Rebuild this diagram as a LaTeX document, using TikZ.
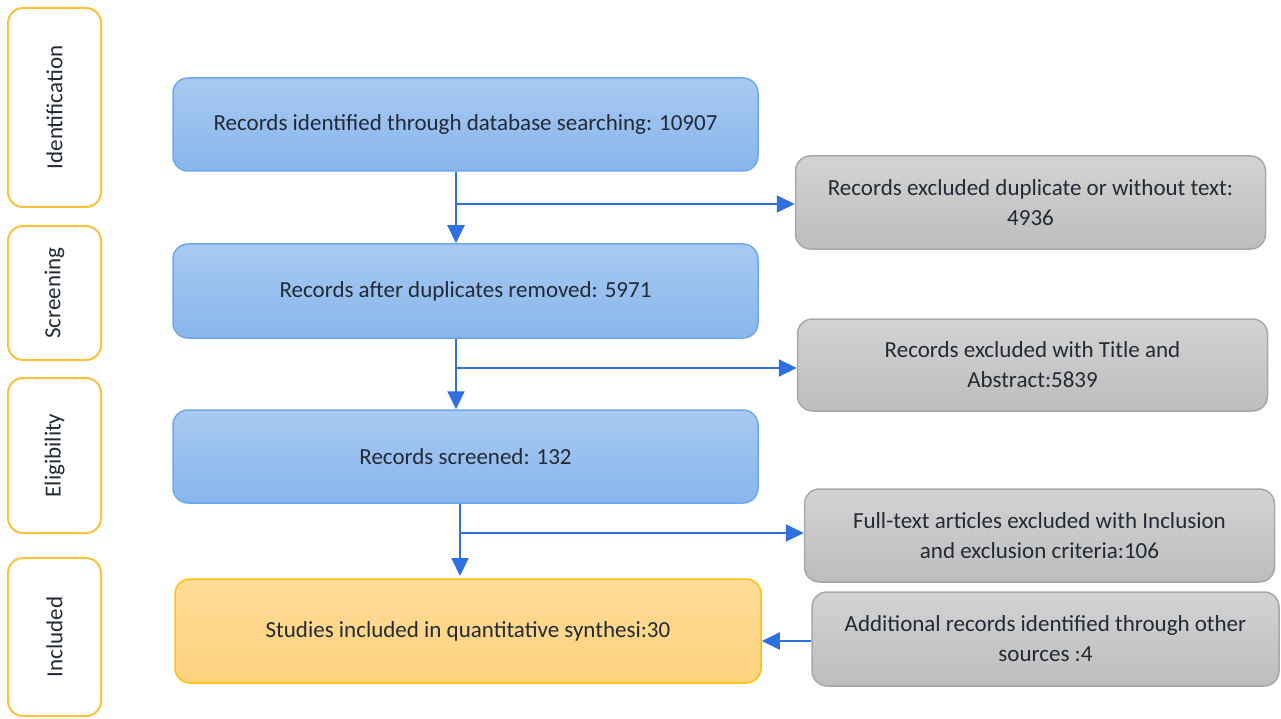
\documentclass[tikz,border=0pt]{standalone}
\usepackage{fontspec}
\setmainfont{Carlito}
\usetikzlibrary{arrows.meta,calc}
\definecolor{arrowblue}{HTML}{2F6FDE}
\definecolor{blueborder}{HTML}{6FA8E8}
\definecolor{bluetop}{HTML}{A8C9F1}
\definecolor{bluebot}{HTML}{88B6EC}
\definecolor{graytop}{HTML}{D3D3D3}
\definecolor{graybot}{HTML}{BDBDBD}
\definecolor{grayborder}{HTML}{A8A8A8}
\definecolor{orangetop}{HTML}{FFDC98}
\definecolor{orangebot}{HTML}{FFD27E}
\definecolor{orangeborder}{HTML}{FFC10E}
\definecolor{sideborder}{HTML}{FAC33A}
\definecolor{txt}{HTML}{222A35}
\tikzset{
  base/.style={rounded corners=15pt, line width=1.5pt, align=center, inner sep=0pt, text=txt, font=\fontsize{23}{30}\selectfont},
  bluebox/.style={base, draw=blueborder, top color=bluetop, bottom color=bluebot, minimum width=585pt, minimum height=93pt},
  graybox/.style={base, draw=grayborder, top color=graytop, bottom color=graybot, minimum width=470pt, minimum height=93pt},
  orangebox/.style={base, draw=orangeborder, top color=orangetop, bottom color=orangebot, minimum width=586pt, minimum height=104pt},
  sidebox/.style={base, draw=sideborder, fill=white, minimum width=93pt, line width=2pt},
  sidelabel/.style={rotate=90, text=txt, font=\fontsize{23}{25}\selectfont},
  arr/.style={draw=arrowblue, line width=2pt, -{Triangle[length=18pt,width=17pt]}},
}
\begin{document}
\begin{tikzpicture}[x=1pt,y=-1pt]
\useasboundingbox (0,0) rectangle (1281,719);
% side boxes
\node[sidebox, minimum height=199pt] (sid) at (54.5,107.5) {};
\node[sidelabel] (lid) at (sid.center) {Identification};
\node[sidebox, minimum height=134pt] (ssc) at (54.5,293) {};
\node[sidelabel] (lsc) at (ssc.center) {Screening};
\node[sidebox, minimum height=155pt] (sel) at (54.5,455.5) {};
\node[sidelabel] (lel) at (sel.center) {Eligibility};
\node[sidebox, minimum height=158pt] (sin) at (54.5,637) {};
\node[sidelabel] (lin) at (sin.center) {Included};
% main boxes
\node[bluebox] (b1) at (465.5,124.5) {Records identified through database searching: 10907};
\node[bluebox, minimum height=94pt] (b2) at (465.5,291) {Records after duplicates removed: 5971};
\node[bluebox] (b3) at (465.5,456.5) {Records screened: 132};
\node[orangebox] (b4) at (468,631) {Studies included in quantitative synthesi:30};
% gray boxes
\node[graybox] (g1) at (1030.5,202.5) {Records excluded duplicate or without text:\\4936};
\node[graybox, minimum height=92pt] (g2) at (1032.5,365) {Records excluded with Title and\\Abstract:5839};
\node[graybox] (g3) at (1039.5,535.5) {Full-text articles excluded with Inclusion\\and exclusion criteria:106};
\node[graybox, minimum width=467pt, minimum height=94pt] (g4) at (1045.5,639) {Additional records identified through other\\sources :4};
% connectors
\coordinate (j1) at (456,204);
\coordinate (j2) at (456,368);
\coordinate (j3) at (460,533);
\coordinate (e3) at (460,576);
\coordinate (j4) at (0,641);
\draw[arr] (j1 |- b1.south) -- (j1 |- b2.north);
\draw[arr] (j1) -- (j1 -| g1.west);
\draw[arr] (j2 |- b2.south) -- (j2 |- b3.north);
\draw[arr] (j2) -- (j2 -| g2.west);
\draw[arr] (j3 |- b3.south) -- (e3);
\draw[arr] (j3) -- (j3 -| g3.west);
\draw[arr] (g4.west |- j4) -- (b4.east |- j4);
\end{tikzpicture}
\end{document}
